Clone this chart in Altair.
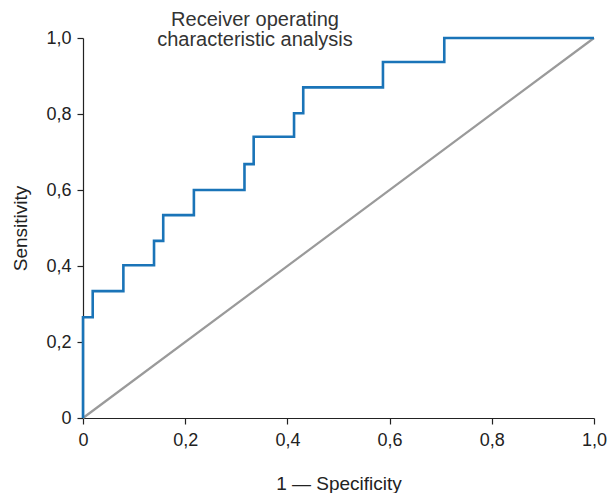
import altair as alt
import pandas as pd

# ROC curve corner points (1 - specificity, sensitivity)
fpr = [0.0, 0.0, 0.019, 0.079, 0.139, 0.157, 0.217, 0.316, 0.334, 0.413, 0.431, 0.587, 0.707, 1.0]
tpr = [0.0, 0.265, 0.334, 0.402, 0.466, 0.534, 0.600, 0.668, 0.740, 0.802, 0.870, 0.937, 1.0, 1.0]

# Reference diagonal
diag_x = [0.0, 1.0]
diag_y = [0.0, 1.0]

ticks = [0.0, 0.2, 0.4, 0.6, 0.8, 1.0]

FONT = "Liberation Sans"
BLUE = "#1a74b8"
GRAY = "#9a9a9a"
DARK = "#222222"

roc = pd.DataFrame({"x": fpr, "y": tpr, "i": list(range(len(fpr)))})
diag = pd.DataFrame({"x": diag_x, "y": diag_y, "i": [0, 1]})

label_expr = "datum.value == 0 ? '0' : replace(format(datum.value, '.1f'), '.', ',')"

xs = alt.X("x:Q", scale=alt.Scale(domain=[0, 1], nice=False),
           axis=alt.Axis(values=ticks, labelExpr=label_expr, title="1 — Specificity",
                         titlePadding=25, labelPadding=7, labelFlush=False))
ys = alt.Y("y:Q", scale=alt.Scale(domain=[0, 1], nice=False),
           axis=alt.Axis(values=ticks, labelExpr=label_expr, title="Sensitivity",
                         titlePadding=15, labelPadding=6, labelFlush=False))

diag_line = alt.Chart(diag).mark_line(color=GRAY, strokeWidth=2.2).encode(
    x=xs, y=ys, order="i:O")

roc_line = alt.Chart(roc).mark_line(color=BLUE, strokeWidth=2.6, interpolate="step-after").encode(
    x=xs, y=ys, order="i:O")

title = alt.Chart(alt.Data(values=[{}])).mark_text(
    lineBreak="\n", align="center", baseline="alphabetic", font=FONT, fontSize=20,
    lineHeight=20, color="#333333"
).encode(x=alt.value(172), y=alt.value(-12),
         text=alt.value("Receiver operating\ncharacteristic analysis"))

chart = alt.layer(diag_line, roc_line, title).properties(
    width=511, height=380,
    autosize=alt.AutoSizeParams(type="none"),
    padding={"left": 75, "top": 30, "right": 14, "bottom": 75},
).configure_view(stroke=None).configure_axis(
    grid=False, domainColor=DARK, tickColor=DARK, labelColor=DARK, titleColor=DARK,
    labelFont=FONT, titleFont=FONT, labelFontSize=18, titleFontSize=19,
    titleFontWeight="normal", tickSize=6, domainWidth=1.2, tickWidth=1.2,
)

chart.save("out.html", embed_options={"renderer": "svg", "actions": False})
